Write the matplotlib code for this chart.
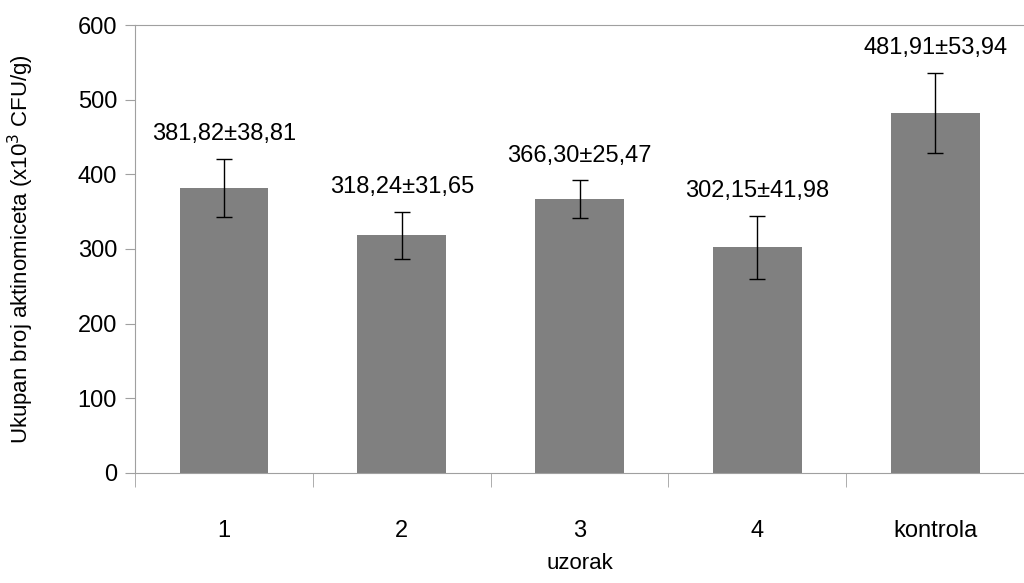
import numpy as np
import matplotlib.pyplot as plt

plt.rcParams['font.family'] = ['Liberation Sans', 'DejaVu Sans']

categories = ["1", "2", "3", "4", "kontrola"]
means = [381.82, 318.24, 366.30, 302.15, 481.91]
errors = [38.81, 31.65, 25.47, 41.98, 53.94]
labels = ["381,82±38,81", "318,24±31,65", "366,30±25,47", "302,15±41,98", "481,91±53,94"]

fig = plt.figure(figsize=(10.24, 5.83), dpi=100)
ax = fig.add_axes([0.132, 0.189, 0.868, 0.768])

x = np.arange(len(categories))
ax.bar(x, means, width=0.5, color='#808080', zorder=2)
ax.errorbar(x, means, yerr=errors, fmt='none', ecolor='black', elinewidth=1,
            capsize=5.5, capthick=1, zorder=3)

for i in range(len(x)):
    ax.annotate(labels[i], (x[i], means[i] + errors[i]), xytext=(0, 10),
                textcoords='offset points', ha='center', va='bottom', fontsize=17)

ax.set_ylim(0, 600)
ax.set_xlim(-0.5, 4.44)
ax.set_yticks(range(0, 601, 100))
ax.set_xticks(x)
ax.set_xticklabels(categories)
ax.set_xticks(np.arange(-0.5, 5, 1.0), minor=True)

ax.tick_params(axis='y', labelsize=17, length=7, color='#a0a0a0', pad=6)
ax.tick_params(axis='x', which='major', labelsize=17, length=0, pad=34)
ax.tick_params(axis='x', which='minor', length=10, color='#a0a0a0')

for s in ['left', 'bottom', 'top']:
    ax.spines[s].set_color('#a0a0a0')
ax.spines['right'].set_visible(False)

ax.set_ylabel('Ukupan broj aktinomiceta (x10$^3$ CFU/g)', fontsize=16, labelpad=30)
ax.set_xlabel('uzorak', fontsize=16, labelpad=8)

plt.savefig('out.png', dpi=100)
